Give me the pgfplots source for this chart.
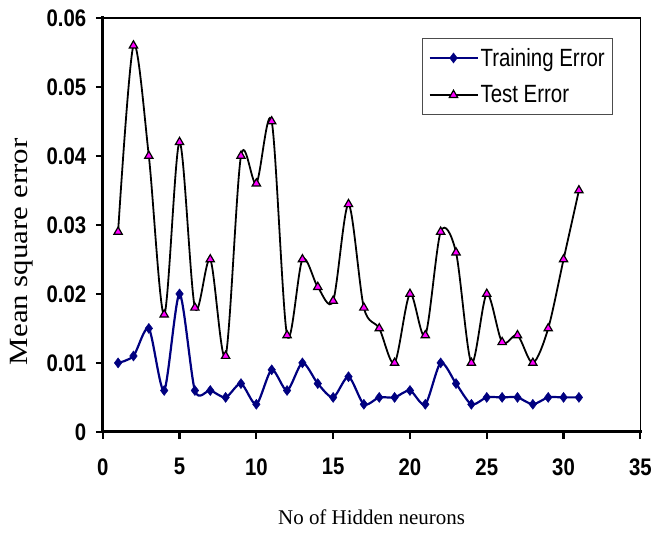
\documentclass[border=0pt]{standalone}
\usepackage{pgfplots}
\pgfplotsset{compat=1.18}
\usepackage{fontspec}
\setmainfont{Liberation Serif}
\newfontfamily\tickfont[FakeStretch=0.85]{Liberation Sans}
\newfontfamily\legfont[FakeStretch=0.82]{Liberation Sans}
\definecolor{navy}{RGB}{0,0,128}
\definecolor{mag}{RGB}{255,0,255}
\begin{document}
\begin{tikzpicture}
\begin{axis}[
  scale only axis,
  width=539pt, height=415pt,
  xmin=0, xmax=35, ymin=0, ymax=0.06,
  xtick={0,5,...,35},
  ytick={0,0.01,0.02,0.03,0.04,0.05,0.06},
  yticklabels={0,0.01,0.02,0.03,0.04,0.05,0.06},
  scaled y ticks=false,
  /pgf/number format/assume math mode=true,
  tick align=outside,
  xtick pos=left, ytick pos=left,
  major tick length=7pt,
  tick style={line width=2.2pt, black},
  axis line style={line width=1.3pt},
  ticklabel style={font=\fontsize{24}{28}\tickfont\bfseries},
  xticklabel style={yshift=-16pt},
  yticklabel style={xshift=-6pt},
  legend style={at={(axis description cs:0.594,0.952)}, anchor=north west,
    draw=black!70, line width=0.8pt, font=\fontsize{25}{30}\legfont,
    row sep=14pt, inner xsep=6pt, inner ysep=8pt},
  legend cell align=left,
  legend image code/.code={
    \draw[mark repeat=2,mark phase=2,#1] plot coordinates {(0pt,0pt) (24pt,0pt) (48pt,0pt)};
  },
  clip=false,
]
\addplot[navy, line width=2.2pt, smooth, tension=0.45, mark=diamond*, mark size=5pt,
  mark options={fill=navy, draw=navy, line width=0.5pt}]
coordinates {
(1,0.010) (2,0.011) (3,0.015) (4,0.006) (5,0.020) (6,0.006) (7,0.006) (8,0.005)
(9,0.007) (10,0.004) (11,0.009) (12,0.006) (13,0.010) (14,0.007) (15,0.005) (16,0.008)
(17,0.004) (18,0.005) (19,0.005) (20,0.006) (21,0.004) (22,0.010) (23,0.007) (24,0.004)
(25,0.005) (26,0.005) (27,0.005) (28,0.004) (29,0.005) (30,0.005) (31,0.005)
};
\addlegendentry{Training Error}
\addplot[black, line width=1.8pt, smooth, tension=0.5, mark=triangle*, mark size=4.8pt,
  mark options={fill=mag, draw=black, line width=1.2pt}]
coordinates {
(1,0.029) (2,0.056) (3,0.040) (4,0.017) (5,0.042) (6,0.018) (7,0.025) (8,0.011)
(9,0.040) (10,0.036) (11,0.045) (12,0.014) (13,0.025) (14,0.021) (15,0.019) (16,0.033)
(17,0.018) (18,0.015) (19,0.010) (20,0.020) (21,0.014) (22,0.029) (23,0.026) (24,0.010)
(25,0.020) (26,0.013) (27,0.014) (28,0.010) (29,0.015) (30,0.025) (31,0.035)
};
\addlegendentry{Test Error}
\draw[line width=3pt, line cap=rect] (rel axis cs:0,1) -- (rel axis cs:0,0) -- (rel axis cs:1,0);
\end{axis}
\node[rotate=90, anchor=center] at ([xshift=-81pt, yshift=-27pt]current axis.west)
  {\scalebox{1}[0.85]{\fontsize{31}{36}\selectfont Mean square error}};
\node[anchor=center] at ([yshift=-86pt]current axis.south)
  {\fontsize{21}{25}\selectfont No of Hidden neurons};
\useasboundingbox (current axis.south west) ++(-103pt,-101pt) rectangle ([xshift=13pt,yshift=18pt]current axis.north east);
\end{tikzpicture}
\end{document}
